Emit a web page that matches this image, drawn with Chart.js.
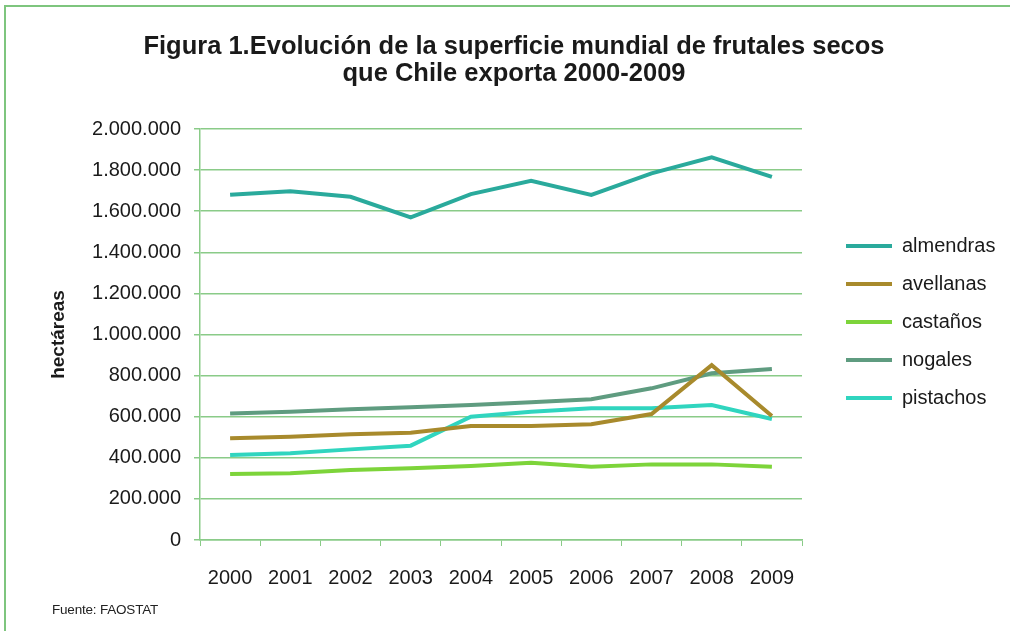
<!DOCTYPE html>
<html>
<head>
<meta charset="utf-8">
<script src="https://cdn.jsdelivr.net/npm/chart.js@4.4.0/dist/chart.umd.min.js"></script>
<style>
  html, body { margin: 0; padding: 0; background: #fff; }
  body { width: 1010px; height: 631px; position: relative; overflow: hidden; font-family: "Liberation Sans", Arial, sans-serif; }
  .frame { position: absolute; left: 4px; top: 5px; width: 1020px; height: 650px; border: 2px solid #7ec57e; box-sizing: border-box; }
  #wrap { position: absolute; left: 0; top: 0; width: 1010px; height: 631px; }
  .title { position: absolute; left: 14px; top: 32px; width: 1000px; text-align: center; font-weight: bold; font-size: 25.5px; line-height: 27px; color: #1a1a1a; }
  .source { position: absolute; left: 52px; top: 602px; font-size: 13.5px; color: #222; letter-spacing: -0.2px; }
</style>
</head>
<body>
<div class="frame"></div>
<div id="wrap"><canvas id="chart" width="1010" height="631"></canvas></div>
<div class="title">Figura 1.Evolución de la superficie mundial de frutales secos<br>que Chile exporta 2000-2009</div>
<div class="source">Fuente: FAOSTAT</div>
<script>
const years = ['2000', '2001', '2002', '2003', '2004', '2005', '2006', '2007', '2008', '2009'];
const almendras = [1680000, 1697000, 1670000, 1570000, 1683000, 1748000, 1679000, 1784000, 1862000, 1767000];
const avellanas = [495000, 503000, 514000, 522000, 555000, 555000, 563000, 613000, 851000, 603000];
const castanos = [321000, 325000, 341000, 349000, 360000, 376000, 357000, 368000, 368000, 357000];
const nogales = [616000, 624000, 636000, 646000, 657000, 670000, 685000, 738000, 811000, 832000];
const pistachos = [414000, 422000, 441000, 459000, 600000, 624000, 641000, 641000, 657000, 589000];

const gridGreen = '#8acb88';
const textColor = '#1a1a1a';

function miles(v) {
    return String(v).replace(/\B(?=(\d{3})+(?!\d))/g, '.');
}

function serie(label, data, color) {
    return {
        label,
        data,
        borderColor: color,
        backgroundColor: color,
        borderWidth: 4,
        pointRadius: 0,
        tension: 0
    };
}

// move the legend beside the plot, like the original
const legendBeside = {
    id: 'legendBeside',
    afterLayout(chart) {
        const lg = chart.legend;
        const w = lg.width, h = lg.height;
        lg.left = chart.chartArea.right + 26;
        lg.right = lg.left + w;
        lg.top = 218;
        lg.bottom = lg.top + h;
    }
};

new Chart(document.getElementById('chart').getContext('2d'), {
    type: 'line',
    data: {
        labels: years,
        datasets: [
            serie('almendras', almendras, '#2aaa9c'),
            serie('avellanas', avellanas, '#a88a2c'),
            serie('castaños', castanos, '#7dd43a'),
            serie('nogales', nogales, '#5f9c80'),
            serie('pistachos', pistachos, '#30d5bf')
        ]
    },
    options: {
        responsive: false,
        animation: false,
        layout: { padding: { left: 0, right: 208, top: 129, bottom: 0 } },
        plugins: {
            legend: {
                position: 'chartArea',
                align: 'start',
                labels: {
                    color: textColor,
                    font: { family: '"Liberation Sans", Arial', size: 20 },
                    boxWidth: 46,
                    boxHeight: 4,
                    padding: 18,
                    generateLabels(chart) {
                        return Chart.defaults.plugins.legend.labels.generateLabels(chart)
                            .map(l => Object.assign(l, { lineWidth: 0, fillStyle: l.strokeStyle }));
                    }
                }
            },
            tooltip: { enabled: false }
        },
        scales: {
            x: {
                offset: true,
                grid: { offset: true, drawOnChartArea: false, drawTicks: true, tickLength: 6, color: gridGreen },
                border: { color: gridGreen, width: 1.5 },
                ticks: { color: textColor, font: { family: '"Liberation Sans", Arial', size: 20 }, padding: 20, maxRotation: 0 },
                afterFit(s) { s.height = 91; }
            },
            y: {
                min: 0,
                max: 2000000,
                ticks: {
                    stepSize: 200000,
                    color: textColor,
                    font: { family: '"Liberation Sans", Arial', size: 20 },
                    padding: 13,
                    callback: v => miles(v)
                },
                grid: { color: gridGreen, lineWidth: 1.5, tickLength: 6 },
                border: { color: gridGreen, width: 1.5 },
                title: {
                    display: true,
                    text: 'hectáreas',
                    color: textColor,
                    font: { family: '"Liberation Sans", Arial', size: 19, weight: 'bold' },
                    padding: { top: 47, bottom: 0 }
                },
                afterFit(s) { s.width = 200; }
            }
        }
    },
    plugins: [legendBeside]
});
</script>
</body>
</html>
